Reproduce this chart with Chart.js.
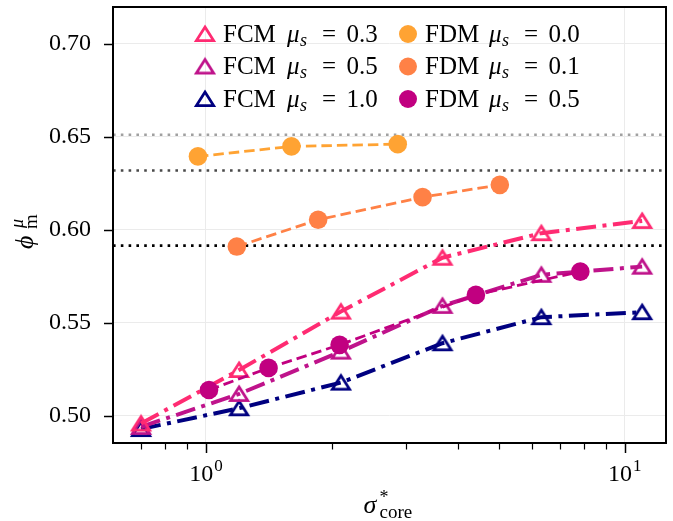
<!DOCTYPE html>
<html>
<head>
<meta charset="utf-8">
<script src="https://cdn.jsdelivr.net/npm/chart.js@4.4.0/dist/chart.umd.min.js"></script>
<style>
  html, body { margin: 0; padding: 0; background: #ffffff; }
  #wrap { width: 673px; height: 521px; }
</style>
</head>
<body>
<div id="wrap"><canvas id="phiChart" width="673" height="521"></canvas></div>
<script>
(function() {
  'use strict';

  // sigma*_core positions shared by the FCM runs
  const sigmaFCM = [0.70, 1.20, 2.10, 3.67, 6.32, 11.0];
  const phiFCM03 = [0.4958, 0.5246, 0.5560, 0.5850, 0.5982, 0.6048];
  const phiFCM05 = [0.4940, 0.5117, 0.5345, 0.5591, 0.5758, 0.5802];
  const phiFCM10 = [0.4928, 0.5040, 0.5178, 0.5390, 0.5530, 0.5557];

  // FDM runs
  const sigmaFDM00 = [0.957, 1.60, 2.87];
  const phiFDM00 = [0.6395, 0.6449, 0.6461];
  const sigmaFDM01 = [1.185, 1.853, 3.29, 5.03];
  const phiFDM01 = [0.5910, 0.6054, 0.6176, 0.6242];
  const sigmaFDM05 = [1.017, 1.411, 2.085, 4.41, 7.83];
  const phiFDM05 = [0.5138, 0.5257, 0.5381, 0.5650, 0.5775];

  // horizontal reference levels (dotted)
  const refLevels = [0.6512, 0.6319, 0.5915];
  const refColors = ['#a0a0a0', '#4a4a4a', '#000000'];

  // axis ticks
  const xTicks = [0.7, 0.8, 0.9, 1, 2, 3, 4, 5, 6, 7, 8, 9, 10];
  const xMajor = [1, 10];
  const yTicks = [0.50, 0.55, 0.60, 0.65, 0.70];

  const SERIF = "'Liberation Serif', 'DejaVu Serif', serif";
  const GRID = '#ebebeb';

  function pts(xs, ys) {
    return xs.map((x, i) => ({ x: x, y: ys[i] }));
  }

  // hollow up-triangle marker, centred on its bounding box
  function triangle(color) {
    const c = document.createElement('canvas');
    c.width = 28;
    c.height = 28;
    const g = c.getContext('2d');
    g.strokeStyle = color;
    g.lineWidth = 2.8;
    g.lineJoin = 'miter';
    g.beginPath();
    g.moveTo(14, 14 - 7);
    g.lineTo(14 + 8.6, 14 + 6.6);
    g.lineTo(14 - 8.6, 14 + 6.6);
    g.closePath();
    g.stroke();
    return c;
  }

  function fcmSet(mu, color, ys) {
    return {
      kind: 'FCM', mu: mu,
      data: pts(sigmaFCM, ys),
      borderColor: color,
      backgroundColor: color,
      borderWidth: 4,
      borderDash: [20, 6.5, 4, 6.5],
      pointStyle: triangle(color),
      pointRadius: 9,
      pointHoverRadius: 9,
      order: 1
    };
  }

  function fdmSet(mu, color, xs, ys) {
    return {
      kind: 'FDM', mu: mu,
      data: pts(xs, ys),
      borderColor: color,
      backgroundColor: color,
      borderWidth: 2.8,
      borderDash: [10.5, 5],
      pointStyle: 'circle',
      pointRadius: 9.3,
      pointHoverRadius: 9.3,
      pointBorderWidth: 0,
      order: 0
    };
  }

  const datasets = [
    fcmSet('0.3', '#ff2b72', phiFCM03),
    fcmSet('0.5', '#bf138b', phiFCM05),
    fcmSet('1.0', '#000080', phiFCM10),
    fdmSet('0.0', '#ffa333', sigmaFDM00, phiFDM00),
    fdmSet('0.1', '#ff8146', sigmaFDM01, phiFDM01),
    fdmSet('0.5', '#c10080', sigmaFDM05, phiFDM05)
  ];

  function put(ctx, text, x, y, font, align) {
    ctx.font = font;
    ctx.textAlign = align || 'left';
    ctx.textBaseline = 'alphabetic';
    ctx.fillText(text, x, y);
  }

  const decor = {
    id: 'decor',
    beforeDatasetsDraw(chart) {
      const ctx = chart.ctx;
      const a = chart.chartArea;
      const ys = chart.scales.y;
      ctx.save();
      ctx.lineWidth = 2.6;
      ctx.setLineDash([2.6, 5.2]);
      refLevels.forEach((v, i) => {
        const py = ys.getPixelForValue(v);
        ctx.strokeStyle = refColors[i];
        ctx.beginPath();
        ctx.moveTo(a.left, py);
        ctx.lineTo(a.right, py);
        ctx.stroke();
      });
      ctx.restore();
    },
    afterDraw(chart) {
      const ctx = chart.ctx;
      const a = chart.chartArea;
      const xs = chart.scales.x;
      const ys = chart.scales.y;
      ctx.save();
      ctx.fillStyle = '#000';
      ctx.strokeStyle = '#000';

      // frame
      ctx.lineWidth = 2;
      ctx.strokeRect(a.left, a.top, a.right - a.left, a.bottom - a.top);

      // tick marks
      ctx.lineWidth = 1.5;
      yTicks.forEach(v => {
        const py = Math.round(ys.getPixelForValue(v)) + 0.5;
        ctx.beginPath();
        ctx.moveTo(a.left - 9, py);
        ctx.lineTo(a.left, py);
        ctx.stroke();
      });
      xTicks.forEach(v => {
        const px = Math.round(xs.getPixelForValue(v)) + 0.5;
        const major = xMajor.includes(v);
        ctx.lineWidth = major ? 1.5 : 1.2;
        ctx.beginPath();
        ctx.moveTo(px, a.bottom);
        ctx.lineTo(px, a.bottom + (major ? 10 : 6.5));
        ctx.stroke();
      });

      // decade labels 10^n
      xMajor.forEach(v => {
        const px = xs.getPixelForValue(v);
        const exp = String(Math.round(Math.log10(v)));
        ctx.font = '24px ' + SERIF;
        const wb = ctx.measureText('10').width;
        ctx.font = '17px ' + SERIF;
        const we = ctx.measureText(exp).width;
        const x0 = px - (wb + we + 1) / 2;
        put(ctx, '10', x0, 481, '24px ' + SERIF);
        put(ctx, exp, x0 + wb + 1, 471, '17px ' + SERIF);
      });

      // x title: sigma*_core
      const cx = (a.left + a.right) / 2;
      put(ctx, 'σ', cx - 26, 513, 'italic 26px ' + SERIF);
      put(ctx, '*', cx - 10, 503, '18px ' + SERIF);
      put(ctx, 'core', cx - 10, 518, '19px ' + SERIF);

      // y title: phi^mu_m, rotated
      ctx.save();
      ctx.translate(33, 249);
      ctx.rotate(-Math.PI / 2);
      put(ctx, 'ϕ', 0, 0, 'italic 26px ' + SERIF);
      put(ctx, 'm', 20, 4, '19px ' + SERIF);
      put(ctx, 'μ', 21, -10, 'italic 18px ' + SERIF);
      ctx.restore();

      // legend, two columns of three
      const colX = [223, 425];
      const rowY = [41.5, 74, 106.5];
      chart.data.datasets.forEach((ds, i) => {
        const col = Math.floor(i / 3);
        const row = i % 3;
        const x0 = colX[col];
        const b = rowY[row];
        const my = b - 7.5;
        if (ds.kind === 'FCM') {
          const img = ds.pointStyle;
          ctx.drawImage(img, x0 - 18 - img.width / 2, my - img.height / 2);
        } else {
          ctx.fillStyle = ds.backgroundColor;
          ctx.beginPath();
          ctx.arc(x0 - 17, my, 9, 0, Math.PI * 2);
          ctx.fill();
          ctx.fillStyle = '#000';
        }
        put(ctx, ds.kind, x0, b, '25px ' + SERIF);
        put(ctx, 'μ', x0 + 64, b, 'italic 25px ' + SERIF);
        put(ctx, 's', x0 + 77, b + 4, 'italic 18px ' + SERIF);
        put(ctx, '=', x0 + 106, b, '25px ' + SERIF, 'center');
        put(ctx, ds.mu, x0 + 139, b, '25px ' + SERIF, 'center');
      });

      ctx.restore();
    }
  };

  new Chart(document.getElementById('phiChart').getContext('2d'), {
    type: 'line',
    data: { datasets: datasets },
    options: {
      responsive: false,
      devicePixelRatio: 1,
      animation: false,
      events: [],
      layout: {
        autoPadding: false,
        padding: { left: 0, top: 7, right: 7, bottom: 0 }
      },
      elements: { line: { tension: 0, fill: false } },
      plugins: {
        legend: { display: false },
        tooltip: { enabled: false }
      },
      scales: {
        x: {
          type: 'logarithmic',
          min: 0.608,
          max: 12.54,
          afterFit: s => {
            s.height = 78;
            s.paddingLeft = 0;
            s.paddingRight = 0;
          },
          afterBuildTicks: s => {
            s.ticks = xTicks.map(v => ({ value: v, major: xMajor.includes(v) }));
          },
          ticks: { display: false },
          border: { display: false },
          grid: {
            drawTicks: false,
            lineWidth: 1,
            color: c => (c.tick && xMajor.includes(c.tick.value)) ? GRID : 'rgba(0,0,0,0)'
          }
        },
        y: {
          type: 'linear',
          min: 0.4853,
          max: 0.7199,
          afterFit: s => {
            s.width = 113;
            s.paddingTop = 0;
            s.paddingBottom = 0;
          },
          afterBuildTicks: s => {
            s.ticks = yTicks.map(v => ({ value: v }));
          },
          ticks: {
            padding: 22,
            color: '#000',
            font: { family: SERIF, size: 24 },
            callback: v => Number(v).toFixed(2)
          },
          border: { display: false },
          grid: { drawTicks: false, color: GRID, lineWidth: 1 }
        }
      }
    },
    plugins: [decor]
  });
})();
</script>
</body>
</html>
